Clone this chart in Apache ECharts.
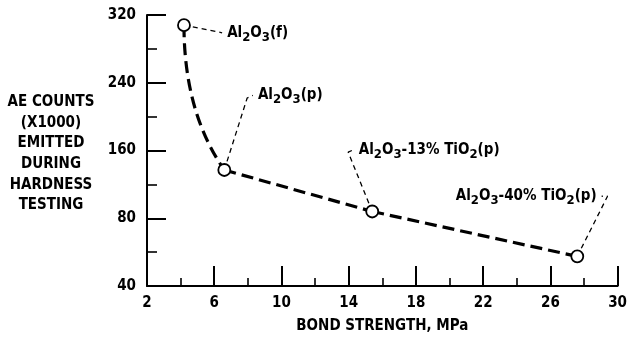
<!DOCTYPE html>
<html>
<head>
<meta charset="utf-8">
<script src="https://cdn.jsdelivr.net/npm/echarts@6/dist/echarts.min.js"></script>
<style>
html, body { margin: 0; background: #fff; }
#chart { width: 630px; height: 339px; }
</style>
</head>
<body>
<div id="chart"></div>
<script>
// bond strength (MPa) and AE counts (x1000)
const bondStrength = [4.2, 6.6, 15.4, 27.6];
const aeCounts = [308, 137, 88, 35];

// y tick labels (bottom of the axis is printed as "40" in the original)
const yTickLabels = { 0: "40", 80: "80", 160: "160", 240: "240", 320: "320" };

// point names, rich text for the subscripts
const pointNames = [
    "{n|Al}{s|2}{n|O}{s|3}{n|(f)}",
    "{n|Al}{s|2}{n|O}{s|3}{n|(p)}",
    "{n|Al}{s|2}{n|O}{s|3}{n|-13% TiO}{s|2}{n|(p)}",
    "{n|Al}{s|2}{n|O}{s|3}{n|-40% TiO}{s|2}{n|(p)}",
];

// leader line bends (data units), starting from each point
const leaderBends = [
    [[6.47, 299]],
    [[7.96, 222], [8.3, 225]],
    [[13.97, 158], [14.3, 161]],
    [[29.4, 106], [29.05, 106]],
];

const fontName = "'DejaVu Sans Condensed', 'DejaVu Sans', sans-serif";

let chart = echarts.init(document.getElementById("chart"));

let leaderSeries = leaderBends.map(function (bends, i) {
    let pts = [[bondStrength[i], aeCounts[i]]].concat(bends);
    return {
        type: "line",
        data: pts,
        symbol: "none",
        silent: true,
        z: 2,
        lineStyle: { color: "#000", width: 1.3, type: [5, 4] },
        endLabel: {
            show: true,
            formatter: pointNames[i],
            distance: 5,
            rich: {
                n: { fontFamily: fontName, fontWeight: "bold", fontSize: 15, color: "#000" },
                s: { fontFamily: fontName, fontWeight: "bold", fontSize: 13, color: "#000", padding: [9, 0, 0, 0] },
            },
        },
    };
});
// last label sits to the left of its hook
leaderSeries[3].endLabel.align = "right";
leaderSeries[3].endLabel.offset = [-10, 0];

// dashed curve: bent first segment, straight after
function renderCurve(params, api) {
    let i = params.dataIndex;
    if (i >= bondStrength.length - 1) {
        return null;
    }
    let a = api.coord([bondStrength[i], aeCounts[i]]);
    let b = api.coord([bondStrength[i + 1], aeCounts[i + 1]]);
    let style = { stroke: "#000", lineWidth: 3.2, lineDash: [12, 6], fill: null };
    if (i === 0) {
        let c = api.coord([bondStrength[0], aeCounts[1] + 0.4 * (aeCounts[0] - aeCounts[1])]);
        return {
            type: "bezierCurve",
            shape: { x1: a[0], y1: a[1], x2: b[0], y2: b[1], cpx1: c[0], cpy1: c[1] },
            style: style,
        };
    }
    return {
        type: "line",
        shape: { x1: a[0], y1: a[1], x2: b[0], y2: b[1] },
        style: style,
    };
}

let points = bondStrength.map(function (x, i) {
    return [x, aeCounts[i]];
});

chart.setOption({
    animation: false,
    grid: { left: 147, right: 9, top: 15, bottom: 52 },
    xAxis: {
        type: "value",
        min: 2,
        max: 30,
        interval: 4,
        name: "BOND STRENGTH, MPa",
        nameLocation: "middle",
        nameGap: 33,
        nameTextStyle: { fontFamily: fontName, fontWeight: "bold", fontSize: 15, color: "#000" },
        axisLine: { show: true, lineStyle: { color: "#000", width: 2 } },
        axisTick: { show: true, inside: true, length: 20, lineStyle: { color: "#000", width: 2 } },
        minorTick: { show: true, splitNumber: 2, length: 8, lineStyle: { color: "#000", width: 1.6 } },
        axisLabel: { margin: 10, fontFamily: fontName, fontWeight: "bold", fontSize: 15, color: "#000" },
        splitLine: { show: false },
    },
    yAxis: {
        type: "value",
        min: 0,
        max: 320,
        interval: 80,
        axisLine: { show: true, lineStyle: { color: "#000", width: 2 } },
        axisTick: { show: true, inside: true, length: 19, lineStyle: { color: "#000", width: 2 } },
        minorTick: { show: true, splitNumber: 2, length: 10, lineStyle: { color: "#000", width: 1.6 } },
        axisLabel: {
            margin: 11,
            fontFamily: fontName,
            fontWeight: "bold",
            fontSize: 15,
            color: "#000",
            formatter: function (v) {
                return yTickLabels[v];
            },
        },
        splitLine: { show: false },
    },
    graphic: [
        {
            type: "text",
            x: 51,
            y: 92,
            style: {
                text: "AE COUNTS\n(X1000)\nEMITTED\nDURING\nHARDNESS\nTESTING",
                font: "bold 15px " + fontName,
                fill: "#000",
                align: "center",
                lineHeight: 20.6,
            },
        },
    ],
    series: leaderSeries.concat([
        {
            type: "custom",
            data: points,
            z: 4,
            silent: true,
            renderItem: renderCurve,
        },
        {
            type: "scatter",
            data: points,
            z: 6,
            symbol: "circle",
            symbolSize: 12,
            itemStyle: { color: "#fff", borderColor: "#000", borderWidth: 1.8, opacity: 1 },
        },
    ]),
});
</script>
</body>
</html>
